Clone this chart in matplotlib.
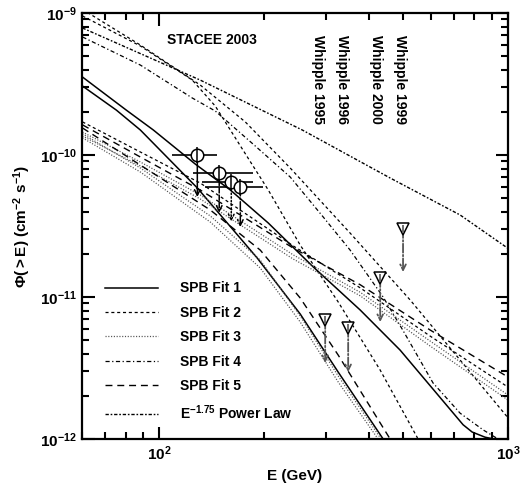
import numpy as np
import matplotlib
matplotlib.use("Agg")
import matplotlib.pyplot as plt
from matplotlib.lines import Line2D
from matplotlib.ticker import FixedLocator, LogLocator, NullFormatter, FuncFormatter

# fonts
plt.rcParams['font.family'] = ['Liberation Sans', 'DejaVu Sans']
plt.rcParams['font.weight'] = 'bold'
plt.rcParams['axes.labelweight'] = 'bold'
plt.rcParams['mathtext.fontset'] = 'custom'
plt.rcParams['mathtext.rm'] = 'Liberation Sans:weight=bold'
plt.rcParams['mathtext.it'] = 'Liberation Sans:weight=bold'
plt.rcParams['mathtext.bf'] = 'Liberation Sans:weight=bold'
plt.rcParams['lines.scale_dashes'] = False

# ---- curves (E in GeV, Phi(>E) in cm^-2 s^-1) ----
# upper family
pl_E = [60.2, 131, 257, 459, 729, 1000]
pl_F = [7.84e-10, 3.37e-10, 1.50e-10, 6.89e-11, 3.78e-11, 2.2e-11]

fit4_up_E = [60.2, 88.2, 124.3, 144.7, 188.4, 237.3, 295.1, 352.5, 438.4, 500.1, 609.6, 728.8, 848.2, 918, 960]
fit4_up_F = [6.78e-10, 4.30e-10, 2.52e-10, 2.04e-10, 1.157e-10, 7.0e-11, 3.66e-11, 2.14e-11, 1.0e-11,
             5.8e-12, 2.48e-12, 1.52e-12, 1.16e-12, 1.03e-12, 0.98e-12]

fit2_up_E = [60.2, 88.2, 131, 176.4, 237.3, 352.5, 524, 728.8, 1000]
fit2_up_F = [1.06e-9, 5.95e-10, 3.11e-10, 1.71e-10, 8.10e-11, 2.82e-11, 9.53e-12, 3.60e-12, 1.41e-12]

fit2_cut_E = [60.2, 88.2, 124.3, 144.7, 181.1, 205.3, 253.5, 325.8, 429.8, 548.6, 560]
fit2_cut_F = [9.53e-10, 5.86e-10, 3.37e-10, 2.21e-10, 9.22e-11, 5.67e-11, 2.32e-11, 9.23e-12, 3.06e-12, 1.03e-12, 0.9e-12]

# solid pair
fit1_a_E = [60.2, 80.4, 96.1, 126.8, 159.8, 205.3, 276.2, 376.7, 490.3, 743.3, 789, 859, 948]
fit1_a_F = [3.54e-10, 2.07e-10, 1.50e-10, 8.63e-11, 5.67e-11, 3.32e-11, 1.63e-11, 8.10e-12, 4.23e-12,
            1.26e-12, 1.12e-12, 1.03e-12, 0.98e-12]

fit1_b_E = [60.2, 75.3, 88.2, 128.5, 190.9, 253.5, 325.8, 438.4, 450]
fit1_b_F = [3.06e-10, 2.07e-10, 1.50e-10, 5.86e-11, 1.88e-11, 7.59e-12, 2.96e-12, 1.0e-12, 0.9e-12]

# lower family, shallow branch
low_E = [60.2, 88.2, 131, 242.1, 376.7, 597.6, 1000]
fit5_a_F = [1.63e-10, 9.68e-11, 5.67e-11, 2.21e-11, 1.22e-11, 5.86e-12, 2.73e-12]
fit2_a_F = [1.71e-10, 1.05e-10, 6.35e-11, 2.29e-11, 1.16e-11, 5.31e-12, 2.32e-12]
fit3_a_F = [1.45e-10, 8.93e-11, 5.23e-11, 1.98e-11, 1.08e-11, 4.90e-12, 2.04e-12]
fit3_c_F = [1.36e-10, 8.37e-11, 4.90e-11, 1.85e-11, 1.02e-11, 4.52e-12, 1.88e-12]

# lower family, steep branch
fit5_b_E = [60.2, 88.2, 140, 194.7, 253.5, 325.8, 459.1]
fit5_b_F = [1.55e-10, 8.5e-11, 4.1e-11, 2.14e-11, 9.84e-12, 3.9e-12, 1.0e-12]
fit3_b_E = [60.2, 88.2, 140, 194.7, 253.5, 325.8, 424]
fit3_b_F = [1.32e-10, 7.59e-11, 3.37e-11, 1.60e-11, 6.67e-12, 2.52e-12, 1.0e-12]
fit3_d_E = [60.2, 88.2, 140, 194.7, 253.5, 325.8, 432.6]
fit3_d_F = [1.41e-10, 8.1e-11, 3.72e-11, 1.82e-11, 7.35e-12, 2.78e-12, 1.0e-12]

# STACEE 2003 points
st_E = [128.5, 148.5, 160.8, 170.7]
st_F = [1.0e-10, 7.46e-11, 6.45e-11, 5.95e-11]
st_E_lo = [109, 125.2, 132.8, 135.5]
st_E_hi = [146.6, 185.9, 185.9, 198.6]
st_F_tip = [5.06e-11, 3.91e-11, 3.40e-11, 3.11e-11]

# Whipple upper limits
wh_labels = ['Whipple 1995', 'Whipple 1996', 'Whipple 2000', 'Whipple 1999']
wh_E = [299, 348, 430, 500]
wh_F = [6.89e-12, 6.05e-12, 1.36e-11, 3.01e-11]
wh_F_tip = [3.43e-12, 2.96e-12, 6.67e-12, 1.50e-11]

legend_labels = ['SPB Fit 1', 'SPB Fit 2', 'SPB Fit 3', 'SPB Fit 4', 'SPB Fit 5', 'E$^{-1.75}$ Power Law']

# line styles
sty = {
    'fit1': dict(color='black', lw=1.1, ls='-'),
    'fit2': dict(color='black', lw=0.9, ls=(0, (2.2, 2.0))),
    'fit3': dict(color='#505050', lw=0.9, ls=(0, (0.8, 1.2))),
    'fit4': dict(color='black', lw=0.9, ls=(0, (3.0, 1.8, 0.9, 1.8))),
    'fit5': dict(color='black', lw=1.0, ls=(0, (5.0, 3.5))),
    'pl': dict(color='black', lw=1.0, ls=(0, (2.4, 1.3, 1.2, 1.3))),
}

fig = plt.figure(figsize=(5.22, 4.86), dpi=100)
ax = fig.add_axes([82 / 522, 1 - 439 / 486, 426 / 522, 426 / 486])

# curves
ax.plot(pl_E, pl_F, **sty['pl'])
ax.plot(fit4_up_E, fit4_up_F, **sty['fit4'])
ax.plot(fit2_up_E, fit2_up_F, **sty['fit2'])
ax.plot(fit2_cut_E, fit2_cut_F, **sty['fit2'])
ax.plot(fit1_a_E, fit1_a_F, **sty['fit1'])
ax.plot(fit1_b_E, fit1_b_F, **sty['fit1'])
ax.plot(low_E, fit5_a_F, **sty['fit5'])
ax.plot(low_E, fit2_a_F, **sty['fit2'])
ax.plot(low_E, fit3_a_F, **sty['fit3'])
ax.plot(low_E, fit3_c_F, **sty['fit3'])
ax.plot(fit5_b_E, fit5_b_F, **sty['fit5'])
ax.plot(fit3_b_E, fit3_b_F, **sty['fit3'])
ax.plot(fit3_d_E, fit3_d_F, **sty['fit3'])

# STACEE points with energy bars and arrows
st_E_arr = np.array(st_E)
xerr = [st_E_arr - np.array(st_E_lo), np.array(st_E_hi) - st_E_arr]
ax.errorbar(st_E, st_F, xerr=xerr, fmt='none', ecolor='black', elinewidth=1.2, capsize=0, zorder=4)
arrow_ls = ['-', '--', ':', '-.']
for e, f, ft, ls in zip(st_E, st_F, st_F_tip, arrow_ls):
    ax.annotate('', xy=(e, ft), xytext=(e, f),
                arrowprops=dict(arrowstyle='->', lw=1.1, color='black', linestyle=ls,
                                shrinkA=0, shrinkB=0, mutation_scale=10), zorder=4)
ax.plot(st_E, st_F, 'o', ms=9, mfc='white', mec='black', mew=1.1, zorder=5)
ax.plot(st_E, st_F, '|', ms=11, mec='black', mew=1.1, zorder=6)

# Whipple upper limits
for e, f, ft in zip(wh_E, wh_F, wh_F_tip):
    ax.annotate('', xy=(e, ft), xytext=(e, f),
                arrowprops=dict(arrowstyle='->', lw=1.3, color='#555555', linestyle='-.',
                                shrinkA=0, shrinkB=0, mutation_scale=10), zorder=4)
ax.plot(wh_E, wh_F, 'v', ms=9, mfc='white', mec='black', mew=1.1, zorder=5)
ax.plot(wh_E, wh_F, '|', ms=6, mec='#555555', mew=1.2, zorder=6)

# texts
ax.text(0.1995, 0.9366, 'STACEE 2003', transform=ax.transAxes, fontsize=10, va='center', ha='left')
wh_xpos = [0.553, 0.610, 0.690, 0.747]
for xp, lab in zip(wh_xpos, wh_labels):
    ax.text(xp, 0.948, lab, transform=ax.transAxes, fontsize=10, rotation=270,
            ha='center', va='top')

# legend
handles = [Line2D([], [], **sty[k]) for k in ['fit1', 'fit2', 'fit3', 'fit4', 'fit5', 'pl']]
ax.legend(handles, legend_labels, loc='upper left', bbox_to_anchor=(0.054, 0.37),
          frameon=False, fontsize=10, handlelength=3.8, handletextpad=1.6,
          labelspacing=0.75, borderpad=0, borderaxespad=0)

# axes
ax.set_xscale('log')
ax.set_yscale('log')
ax.set_xlim(60, 1000)
ax.set_ylim(1e-12, 1e-9)

fmt = FuncFormatter(lambda v, p: r'$\mathbf{10^{%d}}$' % int(round(np.log10(v))))
ax.xaxis.set_major_locator(FixedLocator([100, 1000]))
ax.xaxis.set_minor_locator(LogLocator(base=10, subs=np.arange(2, 10)))
ax.xaxis.set_major_formatter(fmt)
ax.xaxis.set_minor_formatter(NullFormatter())
ax.yaxis.set_major_locator(FixedLocator([1e-12, 1e-11, 1e-10, 1e-9]))
ax.yaxis.set_minor_locator(LogLocator(base=10, subs=np.arange(2, 10)))
ax.yaxis.set_major_formatter(fmt)
ax.yaxis.set_minor_formatter(NullFormatter())

ax.tick_params(which='both', direction='in', top=True, right=True, width=1.5, labelsize=11)
ax.tick_params(which='major', length=9, pad=4)
ax.tick_params(which='minor', length=5)
for s in ax.spines.values():
    s.set_linewidth(1.6)

ax.set_xlabel('E (GeV)', fontsize=11)
ax.set_ylabel(r'$\mathbf{\Phi(>E)}$ (cm$^{-2}$ s$^{-1}$)', fontsize=11)
ax.xaxis.set_label_coords(0.5, -0.07)
ax.yaxis.set_label_coords(-0.115, 0.5)

fig.savefig('out.png', dpi=100)
